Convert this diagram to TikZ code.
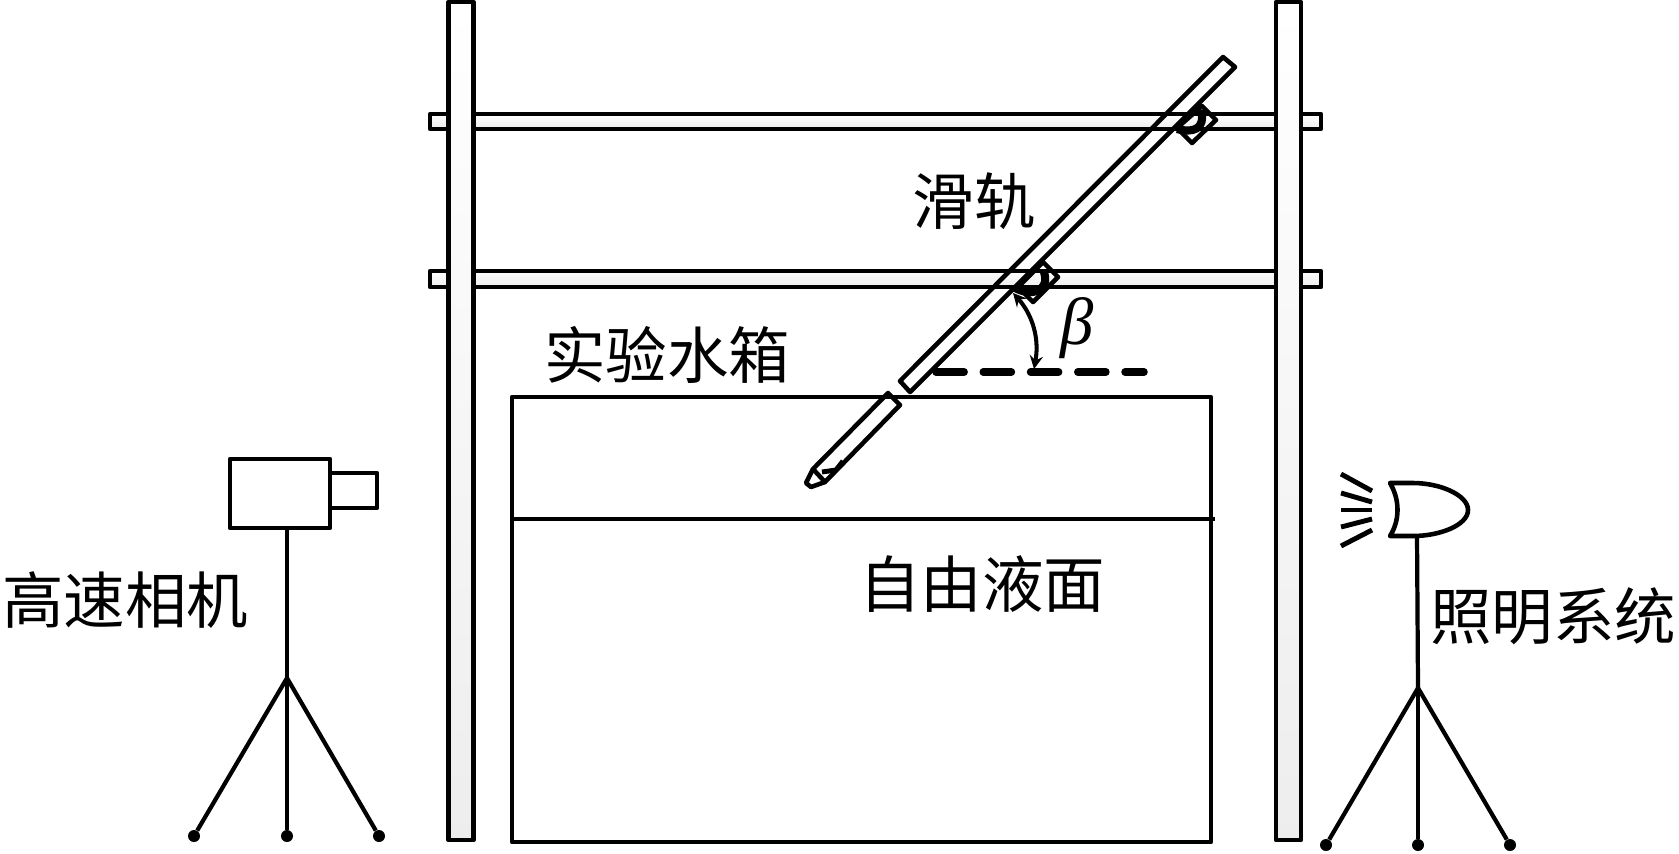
\documentclass[tikz,border=0pt]{standalone}
\usepackage{fontspec}
\usepackage{tikz}
\usetikzlibrary{arrows,positioning}
\newfontfamily\cjk{Noto Sans CJK SC}
\newfontfamily\betafont{Liberation Serif}

\begin{document}
\begin{tikzpicture}[x=0.02cm,y=-0.02cm]
	\tikzset{part/.style={draw=black,line width=2.6pt,line join=round}}
	\tikzset{post/.style={part,top color=white,bottom color=gray!14}}
	\tikzset{rail/.style={part,top color=white,bottom color=gray!14}}
	\tikzset{leg/.style={draw=black,line width=2.4pt}}
	\tikzset{foot/.style={circle,fill=black,inner sep=0pt,minimum size=0.24cm}}
	\tikzset{ray/.style={draw=black,line width=2.8pt}}
	\tikzset{lbl/.style={inner sep=0pt,font=\cjk\fontsize{35}{35}\selectfont}}
	\useasboundingbox (0,0) rectangle (1679,853);
	% rails and posts
	\draw[rail] (430,114) rectangle (1321,129);
	\draw[rail] (430,271) rectangle (1321,287);
	\draw[post] (448.5,2) rectangle (473.5,840);
	\draw[post] (1276,2) rectangle (1301,840);
	% clamps
	\draw[part] (1202,106) -- (1216,120) -- (1192,143) -- (1177,128) -- cycle;
	\draw[part] (1043,262) -- (1058,277) -- (1033,302) -- (1018,287) -- cycle;
	\draw[line width=4.6pt] (1177,129) .. controls (1192,133) and (1206,130) .. (1201,110);
	\draw[line width=4.6pt] (1015,288) .. controls (1032,297) and (1050,291) .. (1044,272);
	% slide and needle
	\draw[part] (1223,57) -- (1235,67) -- (910,392) -- (900,381) -- cycle;
	\draw[part] (888,393) -- (900,405) -- (825,482) -- (813,469) -- cycle;
	\draw[part] (813,469) -- (806,483) -- (811,487) -- (825,482);
	\draw[line width=2.8pt] (822,472) -- (836,470) -- (843,461);
	% tank
	\draw[part] (512,397) rectangle (1211,842);
	\draw[part] (512,519) -- (1215,519);
	% angle
	\draw[line width=4.3pt,line cap=round,dash pattern=on 16pt off 10.9pt] (936,372) -- (1144,372);
	\coordinate (beta1) at (1013,293);
	\coordinate (beta2) at (1034,369);
	\draw[stealth-stealth,line width=2.3pt] (beta1) .. controls (1030,312) and (1040,335) .. (beta2);
	% camera
	\node[part,minimum width=2cm,minimum height=1.38cm,inner sep=0pt] (body) at (280,493.5) {};
	\draw[part] (body.east |- 0,473) -- (377,473) -- (377,508) -- (body.east |- 0,508);
	\coordinate (capex) at (287,678);
	\node[foot] (cl) at (194,836) {};
	\node[foot] (cm) at (287,836) {};
	\node[foot] (cr) at (379,836) {};
	\path[leg]
		(body.south -| capex) edge (capex)
		(capex) edge (cl)
		(capex) edge (cm)
		(capex) edge (cr);
	% lamp
	\draw[part] (1390,483) -- (1413,483) .. controls (1440,483) and (1468,495) .. (1468,510)
		.. controls (1468,525) and (1440,536) .. (1413,536) -- (1390,536)
		.. controls (1400,520) and (1400,500) .. (1390,483) -- cycle;
	\coordinate (ltop) at (1417,536);
	\coordinate (lapex) at (1418,688);
	\node[foot] (ll) at (1326,845) {};
	\node[foot] (lm) at (1418,845) {};
	\node[foot] (lr) at (1510,845) {};
	\path[leg]
		(ltop) edge (lapex)
		(lapex) edge (ll)
		(lapex) edge (lm)
		(lapex) edge (lr);
	\draw[ray] (1341,474) -- (1372,491);
	\draw[ray] (1341,493) -- (1372,502);
	\draw[ray] (1341,510) -- (1372,510);
	\draw[ray] (1341,527) -- (1372,519);
	\draw[ray] (1341,546) -- (1372,530);
	% labels
	\node[lbl] (camera) at (125,600) {高速相机};
	\node[lbl] (light) at (1553,616) {照明系统};
	\node[lbl] (tank) at (667,355) {实验水箱};
	\node[lbl] (surface) at (982,584) {自由液面};
	\node[lbl] (slide) at (974,201) {滑轨};
	\node[inner sep=0pt,font=\betafont\itshape\fontsize{38}{38}\selectfont] (beta) at (1077,328) {β};
\end{tikzpicture}
\end{document}
